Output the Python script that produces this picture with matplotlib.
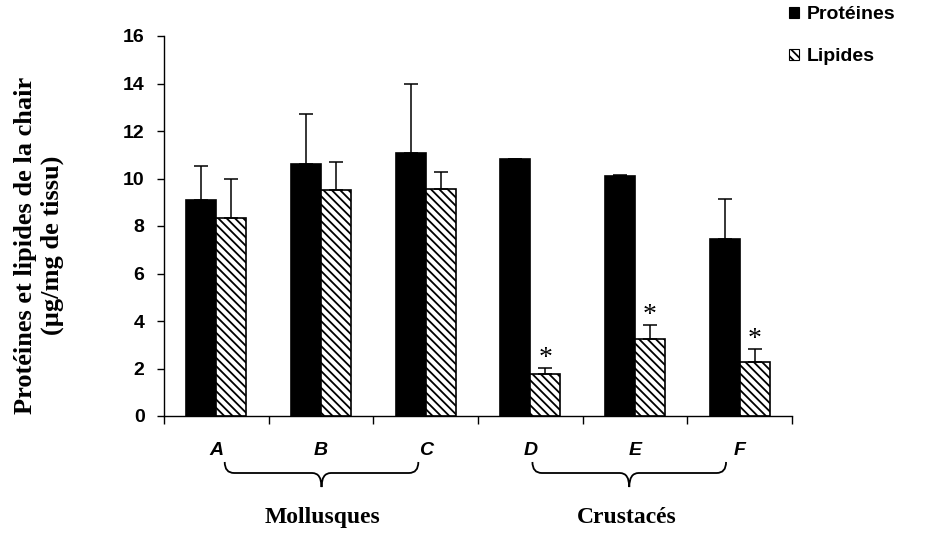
import matplotlib
matplotlib.use('Agg')
import matplotlib.pyplot as plt
import matplotlib.transforms as mtransforms
from matplotlib.patches import Patch, PathPatch
from matplotlib.path import Path
import numpy as np

# data
categories = ['A', 'B', 'C', 'D', 'E', 'F']
proteines = [9.09, 10.61, 11.09, 10.81, 10.10, 7.44]
proteines_err = [1.44, 2.11, 2.87, 0.0, 0.06, 1.70]
lipides = [8.35, 9.50, 9.57, 1.75, 3.26, 2.26]
lipides_err = [1.64, 1.21, 0.70, 0.28, 0.57, 0.56]
significatif = [False, False, False, True, True, True]

groupes = ['Mollusques', 'Crustacés']
groupe_debut = [0.08, 3.02]
groupe_fin = [1.93, 4.87]
groupe_centre = [1.01, 3.92]

SANS = 'Liberation Sans'
SERIF = 'Liberation Serif'
plt.rcParams['hatch.linewidth'] = 1.3


def brace(ax, x0, x1, y_top, y_flat, y_point, r):
    xm = (x0 + x1) / 2
    verts = [
        (x0, y_top), (x0, y_flat), (x0 + r, y_flat),
        (xm - r, y_flat), (xm, y_flat), (xm, y_point),
        (xm, y_flat), (xm + r, y_flat),
        (x1 - r, y_flat), (x1, y_flat), (x1, y_top),
    ]
    codes = [
        Path.MOVETO, Path.CURVE3, Path.CURVE3,
        Path.LINETO, Path.CURVE3, Path.CURVE3,
        Path.CURVE3, Path.CURVE3,
        Path.LINETO, Path.CURVE3, Path.CURVE3,
    ]
    trans = mtransforms.blended_transform_factory(ax.transData, ax.transAxes)
    patch = PathPatch(Path(verts, codes), facecolor='none', edgecolor='black',
                      lw=1.3, transform=trans, clip_on=False)
    ax.add_patch(patch)


def main():
    fig = plt.figure(figsize=(9.38, 5.36), dpi=100)
    ax = fig.add_axes([164 / 938, 1 - 416 / 536, (792 - 164) / 938, 380 / 536])

    x = np.arange(len(categories))
    w = 0.287
    zeros = np.zeros(len(categories))

    ax.bar(x - w / 2, proteines, w, color='black', edgecolor='black', lw=1.2,
           yerr=[zeros, proteines_err], capsize=4.7,
           error_kw=dict(elinewidth=1.1, capthick=1.1, ecolor='black'))
    ax.bar(x + w / 2, lipides, w, color='white', edgecolor='black', lw=1.2,
           hatch='\\\\\\\\',
           yerr=[zeros, lipides_err], capsize=4.7,
           error_kw=dict(elinewidth=1.1, capthick=1.1, ecolor='black'))

    # asterisques de significativite au-dessus des lipides
    for i, s in enumerate(significatif):
        if s:
            ax.annotate('*', (x[i] + w / 2, lipides[i] + lipides_err[i]),
                        xytext=(0, 2), textcoords='offset points',
                        ha='center', va='baseline', fontsize=20, family=SERIF)

    ax.set_xlim(-0.5, len(categories) - 0.5)
    ax.set_ylim(0, 16)
    ax.set_yticks(np.arange(0, 17, 2))
    ax.set_xticks(x)
    ax.set_xticklabels(categories, fontsize=14, fontweight='bold',
                       fontstyle='italic', family=SANS)
    ax.set_xticks(np.arange(-0.5, len(categories), 1), minor=True)
    ax.tick_params(axis='x', which='major', length=0, pad=19)
    ax.tick_params(axis='x', which='minor', length=6, width=1, direction='out')
    ax.tick_params(axis='y', length=5, width=1, direction='out', pad=9)
    for lab in ax.get_yticklabels():
        lab.set_fontsize(14)
        lab.set_fontweight('bold')
        lab.set_family(SANS)

    for side in ['top', 'right']:
        ax.spines[side].set_visible(False)
    for side in ['left', 'bottom']:
        ax.spines[side].set_linewidth(1)

    fig.text(39 / 938, 1 - 245 / 536,
             'Protéines et lipides de la chair\n(µg/mg de tissu)',
             rotation=90, ha='center', va='center', multialignment='center',
             fontsize=19, fontweight='bold', family=SERIF, linespacing=1.25)

    for nom, a, b, c in zip(groupes, groupe_debut, groupe_fin, groupe_centre):
        brace(ax, a, b, -0.121, -0.150, -0.187, 0.09)
        ax.text(c, -0.268, nom, transform=mtransforms.blended_transform_factory(
            ax.transData, ax.transAxes), ha='center', va='center',
            fontsize=17, fontweight='bold', family=SERIF)

    handles = [Patch(facecolor='black', edgecolor='black', lw=0.8),
               Patch(facecolor='white', edgecolor='black', lw=0.8, hatch='\\\\\\\\')]
    fig.legend(handles, ['Protéines', 'Lipides'], loc='upper left',
               bbox_to_anchor=(789 / 938, 1 - 6 / 536), frameon=False,
               prop=dict(family=SANS, weight='bold', size=14),
               handlelength=0.5, handleheight=0.5, handletextpad=0.4,
               labelspacing=1.3, borderpad=0, borderaxespad=0)

    fig.savefig('out.png', dpi=100)


if __name__ == '__main__':
    main()
